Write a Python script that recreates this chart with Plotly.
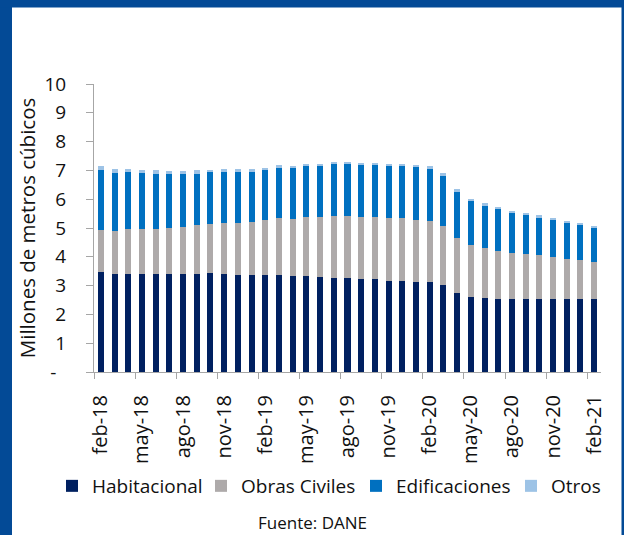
import plotly.graph_objects as go

meses = ["feb-18", "mar-18", "abr-18", "may-18", "jun-18", "jul-18", "ago-18", "sep-18",
         "oct-18", "nov-18", "dic-18", "ene-19", "feb-19", "mar-19", "abr-19", "may-19",
         "jun-19", "jul-19", "ago-19", "sep-19", "oct-19", "nov-19", "dic-19", "ene-20",
         "feb-20", "mar-20", "abr-20", "may-20", "jun-20", "jul-20", "ago-20", "sep-20",
         "oct-20", "nov-20", "dic-20", "ene-21", "feb-21"]

habitacional = [3.46, 3.40, 3.41, 3.41, 3.40, 3.40, 3.41, 3.41, 3.43, 3.40, 3.38, 3.38,
                3.38, 3.38, 3.35, 3.35, 3.31, 3.28, 3.25, 3.23, 3.22, 3.17, 3.16, 3.13,
                3.13, 3.03, 2.74, 2.62, 2.58, 2.55, 2.55, 2.55, 2.55, 2.52, 2.55, 2.52, 2.52]
obras_civiles = [1.48, 1.50, 1.54, 1.55, 1.56, 1.61, 1.64, 1.68, 1.71, 1.79, 1.81, 1.83,
                 1.89, 1.97, 1.98, 2.04, 2.07, 2.14, 2.16, 2.15, 2.15, 2.17, 2.18, 2.16,
                 2.13, 2.04, 1.91, 1.79, 1.73, 1.66, 1.58, 1.55, 1.50, 1.47, 1.37, 1.36, 1.31]
edificaciones = [2.07, 2.01, 1.99, 1.94, 1.93, 1.88, 1.84, 1.80, 1.79, 1.74, 1.74, 1.75,
                 1.76, 1.75, 1.77, 1.77, 1.77, 1.79, 1.80, 1.82, 1.82, 1.82, 1.82, 1.82,
                 1.80, 1.75, 1.61, 1.53, 1.47, 1.45, 1.40, 1.36, 1.33, 1.31, 1.28, 1.24, 1.19]
otros = [0.14, 0.14, 0.11, 0.11, 0.11, 0.10, 0.10, 0.11, 0.10, 0.11, 0.11, 0.09,
         0.07, 0.09, 0.06, 0.06, 0.07, 0.07, 0.07, 0.06, 0.05, 0.06, 0.06, 0.08,
         0.08, 0.08, 0.08, 0.07, 0.08, 0.07, 0.07, 0.07, 0.06, 0.05, 0.04, 0.04, 0.05]

y_ticks = [0, 1, 2, 3, 4, 5, 6, 7, 8, 9, 10]
y_ticktext = ["-\u00a0\u00a0", "1", "2", "3", "4", "5", "6", "7", "8", "9", "10"]

series = [
    ("Habitacional", habitacional, "#002060", 104),
    ("Obras Civiles", obras_civiles, "#AEAAAA", 110),
    ("Edificaciones", edificaciones, "#0070C0", 110),
    ("Otros", otros, "#9DC3E6", 55),
]

FONT = "Open Sans"
TXT = "#111111"
fig = go.Figure()
for name, vals, col, lw in series:
    fig.add_trace(go.Bar(x=meses, y=vals, name=name, marker_color=col,
                         marker_line_width=0, legendwidth=lw))

W, H = 624, 535
L, R, T, B = 94, 23, 84, 163
pw, ph = W - L - R, H - T - B

def px(x):
    return (x - L) / pw

def py(y):
    return (H - B - y) / ph

frame = "#034A96"
shapes = [
    dict(type="rect", xref="paper", yref="paper", x0=px(0), x1=px(12), y0=py(H), y1=py(0),
         fillcolor=frame, line_width=0, layer="above"),
    dict(type="rect", xref="paper", yref="paper", x0=px(0), x1=px(W), y0=py(7.5), y1=py(0),
         fillcolor=frame, line_width=0, layer="above"),
    dict(type="rect", xref="paper", yref="paper", x0=px(621.5), x1=px(W), y0=py(H), y1=py(0),
         fillcolor=frame, line_width=0, layer="above"),
]

fig.update_layout(
    width=W, height=H,
    margin=dict(l=L, r=R, t=T, b=B, autoexpand=False),
    barmode="stack",
    bargap=0.56,
    plot_bgcolor="white",
    paper_bgcolor="white",
    font=dict(family=FONT, size=19, color=TXT),
    showlegend=True,
    legend=dict(orientation="h", x=px(52), xanchor="left", y=py(486), yanchor="middle",
                font=dict(size=19), traceorder="normal", bgcolor="rgba(0,0,0,0)"),
    shapes=shapes,
    annotations=[dict(text="Fuente: DANE", xref="paper", yref="paper", x=px(312), y=py(522),
                      xanchor="center", yanchor="middle", showarrow=False,
                      font=dict(size=17, family=FONT, color=TXT))],
)

fig.update_xaxes(
    type="category",
    tickmode="linear", tick0=0, dtick=3,
    tickson="boundaries",
    tickangle=-90,
    ticks="outside", ticklen=6, tickcolor="#A6A6A6",
    showline=True, linecolor="#A6A6A6", linewidth=1,
    showgrid=False, automargin=False,
    ticklabelstandoff=14,
    tickfont=dict(size=20),
)
fig.update_yaxes(
    range=[0, 10],
    tickmode="array", tickvals=y_ticks, ticktext=y_ticktext,
    ticks="outside", ticklen=7, tickcolor="#A6A6A6",
    showline=True, linecolor="#A6A6A6", linewidth=1,
    showgrid=False, zeroline=False, automargin=False,
    ticklabelstandoff=16,
    tickfont=dict(size=19),
    title=dict(text="Millones de metros cúbicos", standoff=3, font=dict(size=20.5)),
)

fig.write_html("out.html", config={"displayModeBar": False},
               post_script="document.body.style.margin='0';document.body.style.overflow='hidden';")
